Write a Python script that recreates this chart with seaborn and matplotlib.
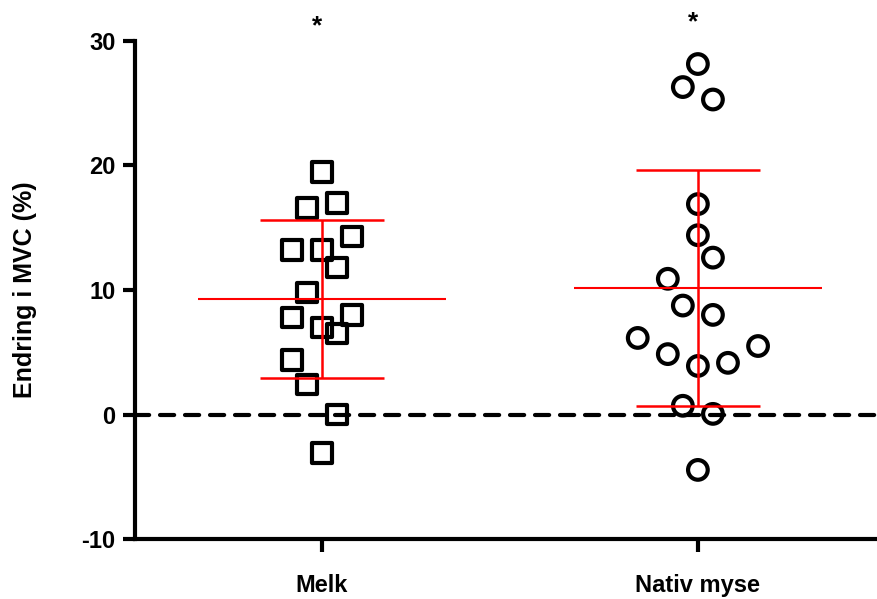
import numpy as np
import pandas as pd
import matplotlib
matplotlib.use("Agg")
import matplotlib.pyplot as plt
import seaborn as sns

# values
melk = [19.5, 16.6, 17.0, 14.3, 13.2, 13.2, 11.8, 9.8, 7.8, 8.0, 7.0, 6.5, 4.4, 2.4, 0.0, -3.1]
nativ = [28.15, 26.3, 25.3, 16.9, 14.4, 12.6, 10.9, 8.75, 8.0, 6.15, 4.85, 5.5, 3.9, 4.15, 0.7, 0.05, -4.45]
groups = ["Melk", "Nativ myse"]

# column slots used to spread the points (layout only)
melk_col = [0, -1, 1, 2, -2, 0, 1, -1, -2, 2, 0, 1, -2, -1, 1, 0]
nativ_col = [0, -1, 1, 0, 0, 1, -2, -1, 1, -4, -2, 4, 0, 2, -1, 1, 0]
col_step = 0.04

sns.set_style("white")
plt.rcParams["font.family"] = ["Liberation Sans", "DejaVu Sans"]
plt.rcParams["font.weight"] = "bold"
plt.rcParams["axes.unicode_minus"] = False
plt.rcParams["text.color"] = "black"
plt.rcParams["axes.labelcolor"] = "black"
plt.rcParams["xtick.color"] = "black"
plt.rcParams["ytick.color"] = "black"
plt.rcParams["axes.edgecolor"] = "black"

df = pd.DataFrame({
    "group": [groups[0]] * len(melk) + [groups[1]] * len(nativ),
    "value": melk + nativ,
    "slot": melk_col + nativ_col,
})
df["pos"] = df["group"].map({g: i for i, g in enumerate(groups)}) + df["slot"] * col_step

fig = plt.figure(figsize=(8.78, 5.99), dpi=100)
ax = fig.add_axes([135 / 878, 1 - 539 / 599, 1 - 135 / 878, (539 - 41) / 599])

# dashed zero line
ax.axhline(0, color="black", lw=3, ls=(0, (3.4, 2.6)), dash_capstyle="round", zorder=1)

sns.scatterplot(data=df, x="pos", y="value", style="group",
                markers={"Melk": "s", "Nativ myse": "o"},
                s=200, facecolor="none", edgecolor="black", linewidth=3,
                legend=False, ax=ax, zorder=3)

# mean and SD
for i, vals in enumerate([melk, nativ]):
    m = np.mean(vals)
    sd = np.std(vals, ddof=1)
    ax.hlines(m, i - 0.33, i + 0.33, color="red", lw=1.5, zorder=4)
    ax.errorbar(i, m, yerr=sd, fmt="none", ecolor="red", elinewidth=1.8,
                capsize=44.5, capthick=1.8, zorder=4)
    ax.text(i - 0.012, 31.2 + 0.3 * i, "*", ha="center", va="center",
            fontsize=19, clip_on=False)

ax.set_xlim(-0.497, 1.479)
ax.set_ylim(-10, 30)
ax.set_yticks([-10, 0, 10, 20, 30])
ax.set_xticks([0, 1])
ax.set_xticklabels(groups)
ax.set_xlabel("")
ax.set_ylabel("Endring i MVC (%)", fontsize=18, fontweight="bold", labelpad=32)

sns.despine(ax=ax)
for side in ["left", "bottom"]:
    ax.spines[side].set_linewidth(3)
ax.tick_params(axis="y", length=9, width=3, labelsize=17, pad=5, left=True)
ax.tick_params(axis="x", length=9, width=3, labelsize=17, pad=16, bottom=True)
for lab in ax.get_xticklabels() + ax.get_yticklabels():
    lab.set_fontweight("bold")

fig.savefig("out.png", dpi=100)
